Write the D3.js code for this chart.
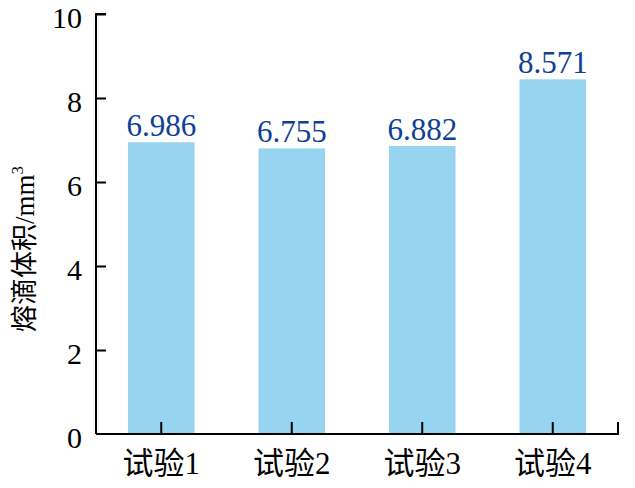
<!DOCTYPE html>
<html><head><meta charset="utf-8">
<script src="https://cdn.jsdelivr.net/npm/d3@7"></script>
<style>body{margin:0;background:#fff}svg{display:block}</style>
</head><body>
<svg id="c" width="635" height="488"></svg>
<script>
const categories = ["试验1", "试验2", "试验3", "试验4"];
const barValues = [6.945, 6.80, 6.857, 8.445];
const valueLabels = ["6.986", "6.755", "6.882", "8.571"];
const yTicks = [0, 2, 4, 6, 8, 10];

const svg = d3.select("#c");
const fontF = "'Liberation Serif','Times New Roman','Noto Sans CJK SC',serif";
const L = 96, R = 618, T = 14, B = 434;
const x = d3.scaleBand().domain(categories).range([L, R]).paddingInner(0.49).paddingOuter(0.245);
const y = d3.scaleLinear().domain([0, 10]).range([B, T]);

svg.selectAll("rect.bar").data(categories).enter().append("rect")
  .attr("x", d => x(d)).attr("width", x.bandwidth())
  .attr("y", (d, i) => y(barValues[i])).attr("height", (d, i) => B - y(barValues[i]))
  .attr("fill", "#96d4f0");

svg.selectAll("text.vl").data(categories).enter().append("text")
  .attr("x", d => x(d) + x.bandwidth() / 2)
  .attr("y", (d, i) => y(barValues[i]) - 6)
  .attr("text-anchor", "middle").attr("font-family", fontF).attr("font-size", 31)
  .attr("fill", "#0f4096").text((d, i) => valueLabels[i]);

const yAxis = svg.append("g").attr("transform", `translate(${L},0)`)
  .call(d3.axisRight(y).tickValues(yTicks).tickSize(10).tickFormat(d3.format("d")));
yAxis.select(".domain").attr("d", `M10,${T}H0V${B}`).attr("stroke", "#000").attr("stroke-width", 2);
yAxis.selectAll(".tick line").attr("stroke", "#000").attr("stroke-width", 2);
yAxis.selectAll(".tick text").attr("x", -14).attr("text-anchor", "end")
  .attr("font-family", fontF).attr("font-size", 30).attr("fill", "#000").attr("dy", "0.45em");
yAxis.select(".tick:first-of-type line").remove();

const xAxis = svg.append("g").attr("transform", `translate(0,${B})`)
  .call(d3.axisTop(x).tickSize(12).tickSizeOuter(0));
xAxis.select(".domain").attr("d", `M${L},0H${R}V-12`).attr("stroke", "#000").attr("stroke-width", 2).attr("fill", "none");
xAxis.selectAll(".tick line").attr("stroke", "#000").attr("stroke-width", 2);
xAxis.selectAll(".tick text").attr("y", 40).attr("dy", 0)
  .attr("font-family", fontF).attr("font-size", 31).attr("fill", "#000");

svg.append("text")
  .attr("transform", "translate(34,249) rotate(-90)")
  .attr("text-anchor", "middle").attr("font-family", fontF).attr("font-size", 27).attr("fill", "#000")
  .text("熔滴体积/mm")
  .append("tspan").attr("font-size", 17).attr("dy", -11).text("3");
</script>
</body></html>
